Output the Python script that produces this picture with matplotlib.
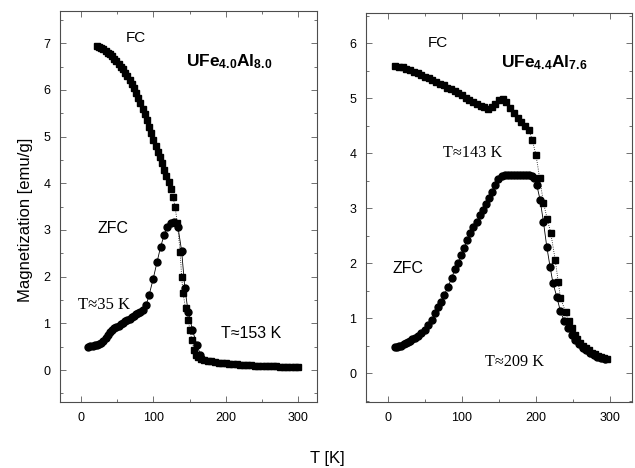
import matplotlib
import matplotlib.pyplot as plt
from matplotlib.ticker import MultipleLocator

matplotlib.use("Agg")

plt.rcParams["font.family"] = ["Liberation Sans", "DejaVu Sans"]
plt.rcParams["mathtext.fontset"] = "custom"
plt.rcParams["mathtext.rm"] = "Liberation Sans"
plt.rcParams["mathtext.bf"] = "Liberation Sans:bold"

# UFe4.0Al8.0 - field cooled (squares)
fc1_T = [22, 25, 28, 31, 34, 37, 40, 43, 46, 49, 52, 55, 58, 61, 64, 67, 70, 73, 76, 79,
         82, 85, 88, 91, 94, 97, 100, 103, 106, 109, 112, 115, 118, 121, 124, 127, 130, 133,
         137, 139, 141, 144.5, 148, 150.5, 153, 156.5, 159, 162, 166, 170,
         175, 180, 185, 190, 195, 200, 205, 210, 215, 220, 225, 230, 235, 240, 245, 250,
         255, 260, 265, 270, 275, 280, 285, 290, 295, 300]
fc1_M = [6.93, 6.92, 6.90, 6.87, 6.84, 6.80, 6.76, 6.72, 6.67, 6.62, 6.56, 6.50, 6.44, 6.37,
         6.30, 6.22, 6.13, 6.04, 5.94, 5.83, 5.72, 5.60, 5.48, 5.35, 5.21, 5.07, 4.92, 4.80,
         4.68, 4.57, 4.43, 4.29, 4.16, 4.02, 3.87, 3.71, 3.50, 3.15,
         2.53, 2.00, 1.64, 1.32, 1.07, 0.86, 0.64, 0.43, 0.32, 0.27, 0.24, 0.22,
         0.20, 0.185, 0.17, 0.16, 0.15, 0.14, 0.13, 0.125, 0.12, 0.11, 0.105, 0.10, 0.10,
         0.095, 0.09, 0.09, 0.085, 0.085, 0.08, 0.08, 0.075, 0.075, 0.07, 0.07, 0.07, 0.07]

# UFe4.0Al8.0 - zero field cooled (circles)
zfc1_T = [10, 13, 16, 19, 22, 25, 28, 31, 34, 37, 40, 43, 46, 49, 52, 55, 58, 61, 64, 67,
          70, 73, 76, 79, 82, 85, 90, 94, 99.5, 105, 110, 115, 119, 124, 129, 134, 139,
          143.5, 148, 154, 160, 165]
zfc1_M = [0.50, 0.51, 0.52, 0.53, 0.54, 0.56, 0.58, 0.62, 0.68, 0.76, 0.82, 0.86, 0.89, 0.92,
          0.95, 0.98, 1.01, 1.04, 1.07, 1.10, 1.13, 1.16, 1.19, 1.22, 1.25, 1.28,
          1.39, 1.60, 1.94, 2.31, 2.64, 2.90, 3.06, 3.14, 3.16, 3.06, 2.55, 1.75, 1.25,
          0.86, 0.54, 0.33]

# UFe4.4Al7.6 - field cooled
fc2_T = [10, 15, 20, 25, 30, 35, 40, 45, 50, 55, 60, 65, 70, 75, 80, 85, 90, 95, 100, 105,
         110, 115, 120, 125, 130, 135, 140, 145, 150, 155, 160, 165, 170, 175, 180, 185,
         190, 195, 200, 205, 210, 215, 220,
         226, 230, 233, 240, 244, 248, 252, 256, 260, 264, 268, 272, 276, 280, 284, 288,
         292, 296]
fc2_M = [5.58, 5.57, 5.56, 5.53, 5.51, 5.48, 5.45, 5.42, 5.39, 5.36, 5.33, 5.30, 5.26, 5.23,
         5.19, 5.16, 5.12, 5.09, 5.05, 5.01, 4.97, 4.93, 4.89, 4.86, 4.83, 4.81, 4.83, 4.90,
         4.97, 4.98, 4.92, 4.82, 4.72, 4.64, 4.57, 4.50, 4.42, 4.24, 3.96, 3.54, 3.10, 2.81,
         2.54,
         2.05, 1.66, 1.36, 1.11, 0.95, 0.81, 0.70, 0.62, 0.55, 0.49, 0.45, 0.41, 0.37, 0.34,
         0.31, 0.29, 0.27, 0.25]

# UFe4.4Al7.6 - zero field cooled
zfc2_T = [9, 12, 15, 18, 21, 24, 27, 30, 33, 37, 41, 45, 50, 54.5, 59, 63.5, 68, 72, 76, 81,
          86, 90.5, 95, 99, 103, 107, 111, 115, 120, 124, 128, 132, 136, 140, 144.5, 149,
          153.5, 158, 162, 166, 170, 174, 178, 182, 186, 190, 194, 197, 201, 205.5, 210,
          214.5, 219, 223, 228, 233, 238, 243, 248, 253, 258, 263, 268, 273, 278, 283, 288,
          293]
zfc2_M = [0.47, 0.48, 0.49, 0.50, 0.52, 0.54, 0.56, 0.58, 0.61, 0.64, 0.68, 0.72, 0.79, 0.87,
          0.96, 1.09, 1.20, 1.30, 1.42, 1.57, 1.72, 1.90, 2.00, 2.14, 2.28, 2.42, 2.55, 2.65,
          2.75, 2.87, 2.97, 3.07, 3.19, 3.30, 3.42, 3.52, 3.58, 3.60, 3.60, 3.60, 3.60, 3.60,
          3.60, 3.60, 3.60, 3.60, 3.58, 3.54, 3.42, 3.15, 2.75, 2.30, 1.93, 1.63, 1.39, 1.12,
          0.95, 0.81, 0.69, 0.60, 0.52, 0.46, 0.41, 0.37, 0.33, 0.30, 0.28, 0.25]

serif = ["Liberation Serif", "DejaVu Serif"]

fig = plt.figure(figsize=(6.35, 4.68), dpi=100)
ax1 = fig.add_axes([0.0945, 0.141, 0.4047, 0.8355])
ax2 = fig.add_axes([0.5764, 0.141, 0.4189, 0.831])


def draw_panel(ax, fc_T, fc_M, zfc_T, zfc_M):
    ax.plot(zfc_T, zfc_M, color="k", lw=0.6, ls="-", marker="o", ms=5.0, mec="k", mfc="k")
    ax.plot(fc_T, fc_M, color="k", lw=0.6, ls=":", marker="s", ms=5.0, mec="k", mfc="k")
    ax.xaxis.set_major_locator(MultipleLocator(100))
    ax.xaxis.set_minor_locator(MultipleLocator(50))
    ax.yaxis.set_major_locator(MultipleLocator(1))
    ax.yaxis.set_minor_locator(MultipleLocator(0.5))
    ax.tick_params(which="both", direction="in", top=True, right=True, width=0.6,
                   color="0.35", labelsize=9)
    ax.tick_params(which="major", length=4, pad=7)
    ax.tick_params(which="minor", length=2)
    for sp in ax.spines.values():
        sp.set_linewidth(0.8)
        sp.set_color("0.3")


draw_panel(ax1, fc1_T, fc1_M, zfc1_T, zfc1_M)
ax1.set_xlim(-29, 326)
ax1.set_ylim(-0.685, 7.69)
ax1.text(76, 7.12, "FC", fontsize=11, ha="center", va="center")
ax1.text(145, 6.6, r"$\mathbf{UFe_{4.0}Al_{8.0}}$", fontsize=12.5, ha="left", va="center")
ax1.text(44, 3.04, "ZFC", fontsize=11.5, ha="center", va="center")
ax1.text(-4, 1.39, "T≈35 K", fontsize=12, ha="left", va="center", family=serif)
ax1.text(193, 0.79, "T≈153 K", fontsize=11.5, ha="left", va="center")

draw_panel(ax2, fc2_T, fc2_M, zfc2_T, zfc2_M)
ax2.set_xlim(-29.7, 329.7)
ax2.set_ylim(-0.527, 6.545)
ax2.text(68, 6.0, "FC", fontsize=11, ha="center", va="center")
ax2.text(153, 5.65, r"$\mathbf{UFe_{4.4}Al_{7.6}}$", fontsize=12.5, ha="left", va="center")
ax2.text(74, 4.0, "T≈143 K", fontsize=11.7, ha="left", va="center", family=serif)
ax2.text(27, 1.9, "ZFC", fontsize=11.5, ha="center", va="center")
ax2.text(131, 0.2, "T≈209 K", fontsize=11.7, ha="left", va="center", family=serif)

fig.text(0.04, 0.53, "Magnetization [emu/g]", rotation=90, fontsize=12,
         ha="center", va="center")
fig.text(0.515, 0.021, "T [K]", fontsize=12, ha="center", va="center")

fig.savefig("out.png", dpi=100)
